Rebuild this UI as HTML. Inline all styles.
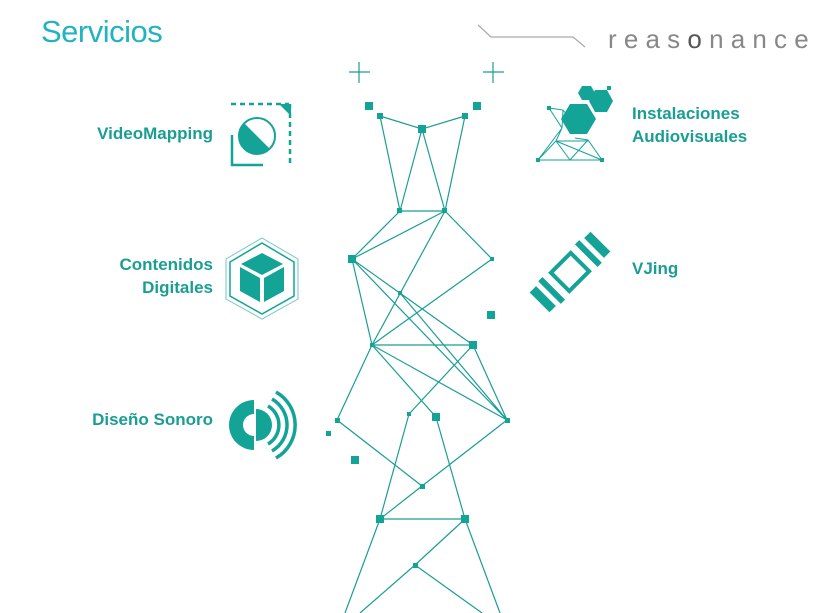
<!DOCTYPE html>
<html><head><meta charset="utf-8"><style>
body{margin:0;background:#fff;}
.w{position:relative;width:833px;height:613px;overflow:hidden;font-family:"Liberation Sans",sans-serif;}
.t{position:absolute;color:#1a9e94;font-weight:bold;font-size:17px;line-height:23px;}
.r{text-align:right;}
</style></head><body><div class="w">
<div style="position:absolute;left:41px;top:14px;font-size:31px;color:#22b3c0;letter-spacing:-0.5px">Servicios</div>
<div style="position:absolute;left:608px;top:24px;font-size:26px;color:#888;letter-spacing:7.2px;white-space:nowrap">reas<span style="color:#555">o</span>nance</div>
<div class="t r" style="left:40px;width:173px;top:122px">VideoMapping</div>
<div class="t r" style="left:40px;width:173px;top:253px">Contenidos<br>Digitales</div>
<div class="t r" style="left:40px;width:173px;top:408px">Diseño Sonoro</div>
<div class="t" style="left:632px;top:102px">Instalaciones<br>Audiovisuales</div>
<div class="t" style="left:632px;top:257px">VJing</div>
<svg width="833" height="613" style="position:absolute;left:0;top:0">
<g stroke="#aaa" fill="none" stroke-width="1.2"><polyline points="478,25 491,37 573,37 585,47"/></g>
<g stroke="#1a9e94" stroke-width="1.2" fill="none">
<path d="M349,72h21M359,62v21M483,72h21M493,62v21"/>
<path d="M380,116L422,129L465,116M380,116L400,211M422,129L400,211M422,129L445,211M465,116L445,211M400,211L445,211M400,211L352,259M445,211L352,259M445,211L492,259M445,211L372,345M352,259L473,345M352,259L507,420M492,259L372,345M400,293L507,420M352,259L372,345
M372,345L473,345M372,345L507,420M372,345L436,417M473,345L409,414M473,345L507,420M372,345L337,420M337,420L422,486M507,420L422,486M409,414L380,519M436,417L465,519M380,519L465,519M422,486L380,519M465,519L415,565M415,565L360,613M415,565L482,613M380,519L345,613M465,519L500,613"/>
</g>
<g fill="#14a397">
<rect x="365" y="102" width="8" height="8"/><rect x="473" y="102" width="8" height="8"/>
<rect x="377" y="113" width="6" height="6"/><rect x="462" y="113" width="6" height="6"/>
<rect x="418" y="125" width="8" height="8"/><rect x="397" y="208" width="5" height="5"/><rect x="442" y="208" width="5" height="5"/>
<rect x="348" y="255" width="8" height="8"/><rect x="490" y="257" width="4" height="4"/><rect x="398" y="291" width="4" height="4"/>
<rect x="487" y="311" width="8" height="8"/><rect x="370" y="343" width="4" height="4"/><rect x="469" y="341" width="8" height="8"/>
<rect x="335" y="418" width="5" height="5"/><rect x="407" y="412" width="4" height="4"/><rect x="432" y="413" width="8" height="8"/>
<rect x="505" y="418" width="5" height="5"/><rect x="326" y="431" width="5" height="5"/><rect x="351" y="456" width="8" height="8"/>
<rect x="420" y="484" width="5" height="5"/><rect x="376" y="515" width="8" height="8"/><rect x="461" y="515" width="8" height="8"/><rect x="413" y="563" width="5" height="5"/>
</g>
<!-- VideoMapping icon -->
<g fill="#14a397" stroke="#14a397">
<path d="M231,104h58" stroke-width="2.5" stroke-dasharray="5,4" fill="none"/>
<path d="M290,104v62" stroke-width="2.5" stroke-dasharray="5,4" fill="none"/>
<path d="M232,135v30h31" stroke-width="2.5" fill="none"/>
<polygon points="279,104 291,104 291,116" stroke="none"/>
<circle cx="257" cy="136" r="18" fill="#fff" stroke-width="2"/>
<path d="M244,123 A18,18 0 0 0 270,149 Z" stroke="none"/>
</g>
<!-- Contenidos icon -->
<g fill="#14a397" stroke="#14a397">
<polygon points="262,243 294,262 294,296 262,314 230,296 230,262" fill="none" stroke-width="1.5"/>
<polygon points="262,238 298,259 298,299 262,319 226,299 226,259" fill="none" stroke-width="1" opacity=".6"/>
<polygon points="262,253 283,264 262,275 241,264" stroke="none"/>
<polygon points="240,267 260,278 260,302 240,291" stroke="none"/>
<polygon points="284,267 264,278 264,302 284,291" stroke="none"/>
</g>
<!-- Sonoro icon -->
<g fill="#14a397" stroke="#14a397">
<path d="M254,400 A25,25 0 0 0 254,450 Z" stroke="none"/>
<path d="M256,409 A16,16 0 0 1 256,441 Z" stroke="none"/>
<path d="M254,414 A11,11 0 0 0 254,436Z" fill="#fff" stroke="none"/>
<path d="M268,406 A22,22 0 0 1 268,444 M272,399 A30,30 0 0 1 272,451 M276,392 A38,38 0 0 1 276,458" fill="none" stroke-width="3.5"/>
</g>
<!-- Instalaciones icon -->
<g fill="#14a397" stroke="#14a397">
<g stroke-width="1" fill="none">
<path d="M549,108L563,110L562,128L538,160L602,160L588,140L575,138M549,108L562,128M562,128L556,141L538,160M556,141L570,160L588,140M556,141L602,160M556,141L588,141M563,110L575,125"/>
</g>
<polygon points="561,119 570,104 587,104 596,119 587,134 570,134" stroke="none"/>
<polygon points="589,101 595,90 607,90 613,101 607,112 595,112" stroke="none"/>
<polygon points="578,93 582,86 591,86 595,93 591,100 582,100" stroke="none"/>
<rect x="547" y="106" width="4" height="4" stroke="none"/><rect x="536" y="158" width="4" height="4" stroke="none"/><rect x="600" y="158" width="4" height="4" stroke="none"/><rect x="607" y="86" width="4" height="4" stroke="none"/>
</g>
<!-- VJing icon -->
<g fill="#14a397" transform="rotate(-45 570 272)">
<rect x="556" y="259" width="28" height="26" fill="none" stroke="#14a397" stroke-width="4"/>
<rect x="541" y="256" width="6" height="32"/>
<rect x="527" y="258" width="9" height="28"/>
<rect x="593" y="256" width="6" height="32"/>
<rect x="604" y="258" width="9" height="28"/>
</g>
</svg>
</div></body></html>
